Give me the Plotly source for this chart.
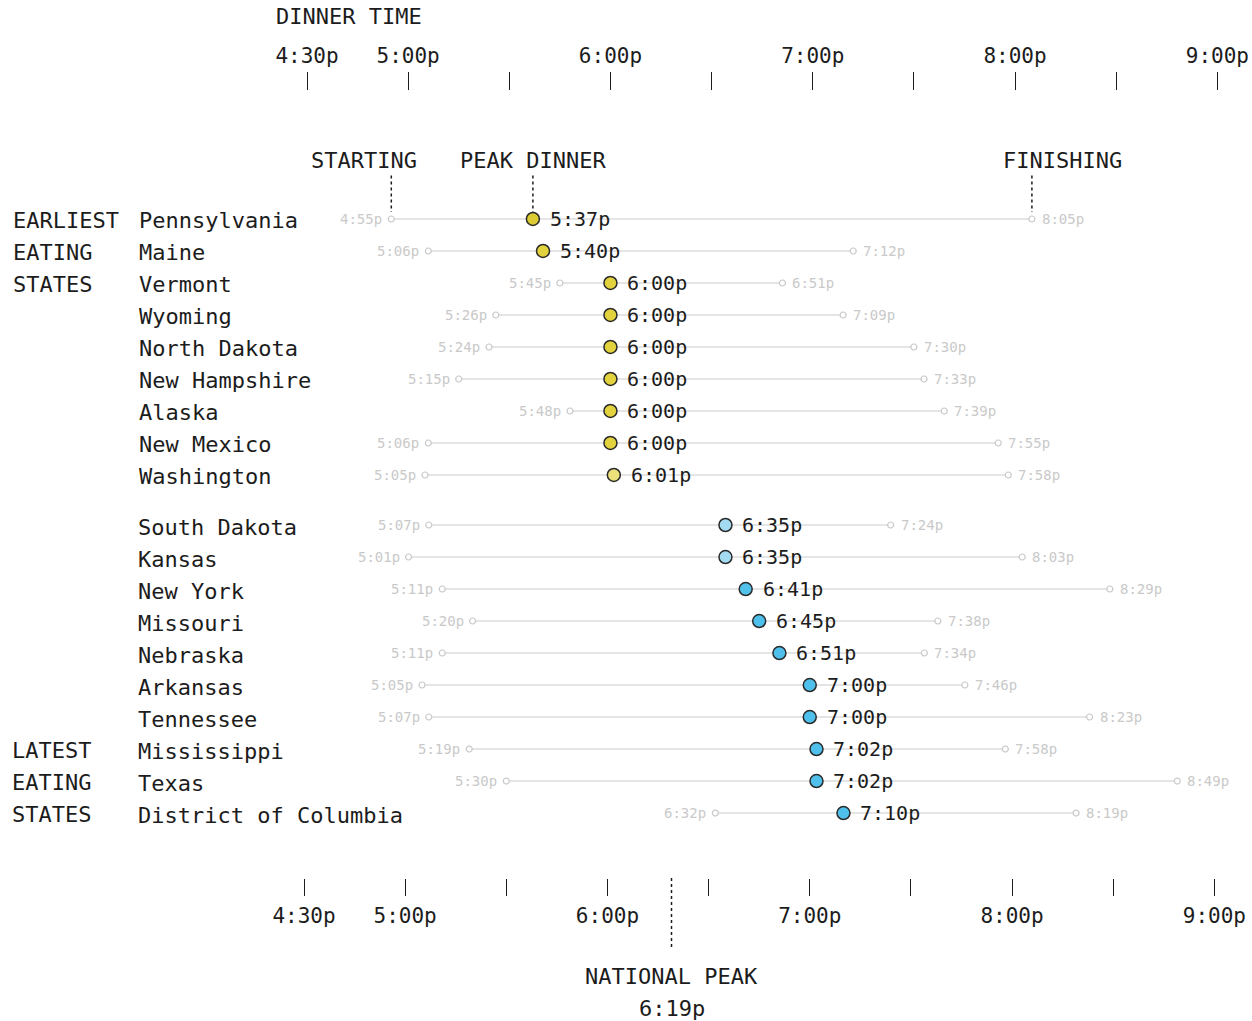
import plotly.graph_objects as go

# ---- data -------------------------------------------------------------
early_states = ["Pennsylvania", "Maine", "Vermont", "Wyoming", "North Dakota",
                "New Hampshire", "Alaska", "New Mexico", "Washington"]
early_start = ["4:55p", "5:06p", "5:45p", "5:26p", "5:24p", "5:15p", "5:48p", "5:06p", "5:05p"]
early_peak = ["5:37p", "5:40p", "6:00p", "6:00p", "6:00p", "6:00p", "6:00p", "6:00p", "6:01p"]
early_end = ["8:05p", "7:12p", "6:51p", "7:09p", "7:30p", "7:33p", "7:39p", "7:55p", "7:58p"]

late_states = ["South Dakota", "Kansas", "New York", "Missouri", "Nebraska", "Arkansas",
               "Tennessee", "Mississippi", "Texas", "District of Columbia"]
late_start = ["5:07p", "5:01p", "5:11p", "5:20p", "5:11p", "5:05p", "5:07p", "5:19p", "5:30p", "6:32p"]
late_peak = ["6:35p", "6:35p", "6:41p", "6:45p", "6:51p", "7:00p", "7:00p", "7:02p", "7:02p", "7:10p"]
late_end = ["7:24p", "8:03p", "8:29p", "7:38p", "7:34p", "7:46p", "8:23p", "7:58p", "8:49p", "8:19p"]

national_peak = "6:19p"

tick_times = ["4:30p", "5:00p", "5:30p", "6:00p", "6:30p", "7:00p", "7:30p", "8:00p", "8:30p", "9:00p"]
tick_labels = ["4:30p", "5:00p", "", "6:00p", "", "7:00p", "", "8:00p", "", "9:00p"]

# ---- styling ----------------------------------------------------------
early_colors = ["#dccb33", "#e2d33e", "#e2d33e", "#e2d33e", "#e2d33e",
                "#e2d33e", "#e2d33e", "#e2d33e", "#ebe07a"]
late_colors = ["#a3dcf1", "#a3dcf1", "#52c2ea", "#4ec0eb", "#4ec0eb",
               "#4ec0eb", "#4ec0eb", "#4ec0eb", "#4ec0eb", "#4ec0eb"]

FONT = "DejaVu Sans Mono"
INK = "#1c1c1c"
FAINT = "#c9c9c9"
RULE = "#dcdcdc"
W, H = 1252, 1021


def minutes(t):
    """'5:37p' -> minutes after noon."""
    h, m = t[:-1].split(":")
    return (int(h) % 12) * 60 + int(m)


def py(px):
    """pixel row from the top -> paper y"""
    return 1 - px / H


fig = go.Figure()
annotations = []
shapes = []


def add_group(names, start, peak, end, colors, xr, yr, name_x):
    rows = list(range(len(names)))
    s = [minutes(t) for t in start]
    p = [minutes(t) for t in peak]
    e = [minutes(t) for t in end]

    lx, ly = [], []
    for i in rows:
        lx += [s[i], e[i], None]
        ly += [i, i, None]
    fig.add_trace(go.Scatter(x=lx, y=ly, mode="lines", xaxis=xr, yaxis=yr,
                             line=dict(color=RULE, width=1.5), hoverinfo="skip"))
    fig.add_trace(go.Scatter(x=s + e, y=rows + rows, mode="markers", xaxis=xr, yaxis=yr,
                             marker=dict(symbol="circle", size=6, color="white",
                                         line=dict(color=FAINT, width=1.2)),
                             hoverinfo="skip"))
    fig.add_trace(go.Scatter(x=p, y=rows, mode="markers", xaxis=xr, yaxis=yr,
                             marker=dict(symbol="circle", size=13, color=colors,
                                         line=dict(color="#2a2a2a", width=1.5)),
                             hoverinfo="skip"))

    for i, name in enumerate(names):
        annotations.append(dict(text=name, xref="paper", yref=yr, x=name_x / W, y=i,
                                xanchor="left", yanchor="middle", yshift=-2, showarrow=False,
                                font=dict(family=FONT, size=22, color=INK)))
        annotations.append(dict(text=peak[i], xref=xr, yref=yr, x=p[i], y=i,
                                xanchor="left", yanchor="middle", xshift=15, showarrow=False,
                                font=dict(family=FONT, size=20, color=INK)))
        annotations.append(dict(text=start[i], xref=xr, yref=yr, x=s[i], y=i,
                                xanchor="right", yanchor="middle", xshift=-7, showarrow=False,
                                font=dict(family=FONT, size=14, color=FAINT)))
        annotations.append(dict(text=end[i], xref=xr, yref=yr, x=e[i], y=i,
                                xanchor="left", yanchor="middle", xshift=8, showarrow=False,
                                font=dict(family=FONT, size=14, color=FAINT)))


add_group(early_states, early_start, early_peak, early_end, early_colors, "x", "y", 137)
add_group(late_states, late_start, late_peak, late_end, late_colors, "x2", "y2", 136)

# side labels for the two groups
for i, word in enumerate(["EARLIEST", "EATING", "STATES"]):
    annotations.append(dict(text=word, xref="paper", yref="y", x=11 / W, y=i, yshift=-2,
                            xanchor="left", yanchor="middle", showarrow=False,
                            font=dict(family=FONT, size=22, color=INK)))
n_late = len(late_states)
for k, word in enumerate(["LATEST", "EATING", "STATES"]):
    annotations.append(dict(text=word, xref="paper", yref="y2", x=10 / W, y=n_late - 3 + k,
                            yshift=-1, xanchor="left", yanchor="middle", showarrow=False,
                            font=dict(family=FONT, size=22, color=INK)))

# column headers over the first row, with dotted leaders
guide = [("STARTING", minutes(early_start[0]), -27),
         ("PEAK DINNER", minutes(early_peak[0]), 0),
         ("FINISHING", minutes(early_end[0]), 31)]
for label, xv, dx in guide:
    annotations.append(dict(text=label, xref="x", yref="y", x=xv, y=-1.84, xshift=dx,
                            xanchor="center", yanchor="middle", showarrow=False,
                            font=dict(family=FONT, size=22, color=INK)))
    shapes.append(dict(type="line", xref="x", yref="y", x0=xv, x1=xv, y0=-1.36, y1=-0.22,
                       line=dict(color=INK, width=1.5, dash="dot")))

# national peak marker under the lower axis
npx = minutes(national_peak)
shapes.append(dict(type="line", xref="x2", yref="paper", x0=npx, x1=npx,
                   y0=py(878), y1=py(950), line=dict(color=INK, width=1.5, dash="dot")))
annotations.append(dict(text="NATIONAL PEAK", xref="x2", yref="paper", x=npx, y=py(976),
                        xanchor="center", yanchor="middle", showarrow=False,
                        font=dict(family=FONT, size=22, color=INK)))
annotations.append(dict(text=national_peak, xref="x2", yref="paper", x=npx, y=py(1008),
                        xanchor="center", yanchor="middle", showarrow=False,
                        font=dict(family=FONT, size=22, color=INK)))

annotations.append(dict(text="DINNER TIME", xref="paper", yref="paper", x=274 / W, y=py(17),
                        xanchor="left", yanchor="middle", showarrow=False,
                        font=dict(family=FONT, size=22, color=INK)))

tickvals = [minutes(t) for t in tick_times]
common_x = dict(tickmode="array", tickvals=tickvals, ticktext=tick_labels,
                ticks="outside", tickwidth=1.3, tickcolor=INK,
                showgrid=False, zeroline=False, showline=False,
                tickfont=dict(family=FONT, size=21, color=INK), fixedrange=True)
px_per_min = 202.3 / 60.0
fig.update_layout(
    width=W, height=H,
    margin=dict(l=0, r=0, t=0, b=0),
    paper_bgcolor="white", plot_bgcolor="white",
    showlegend=False,
    xaxis=dict(common_x, side="top", anchor="y", domain=[0, 1], ticklen=18,
               ticklabelstandoff=1,
               range=[270 - 307 / px_per_min, 270 + (W - 307) / px_per_min]),
    xaxis2=dict(common_x, side="bottom", anchor="y2", domain=[0, 1], ticklen=17,
                ticklabelstandoff=2,
                range=[270 - 304 / px_per_min, 270 + (W - 304) / px_per_min]),
    yaxis=dict(domain=[py(492), py(91)], range=[8.532, -4.0], visible=False, fixedrange=True),
    yaxis2=dict(domain=[py(878), py(505)], range=[11.03, -0.625], visible=False, fixedrange=True),
    annotations=annotations,
    shapes=shapes,
)

fig.write_html("out.html")
